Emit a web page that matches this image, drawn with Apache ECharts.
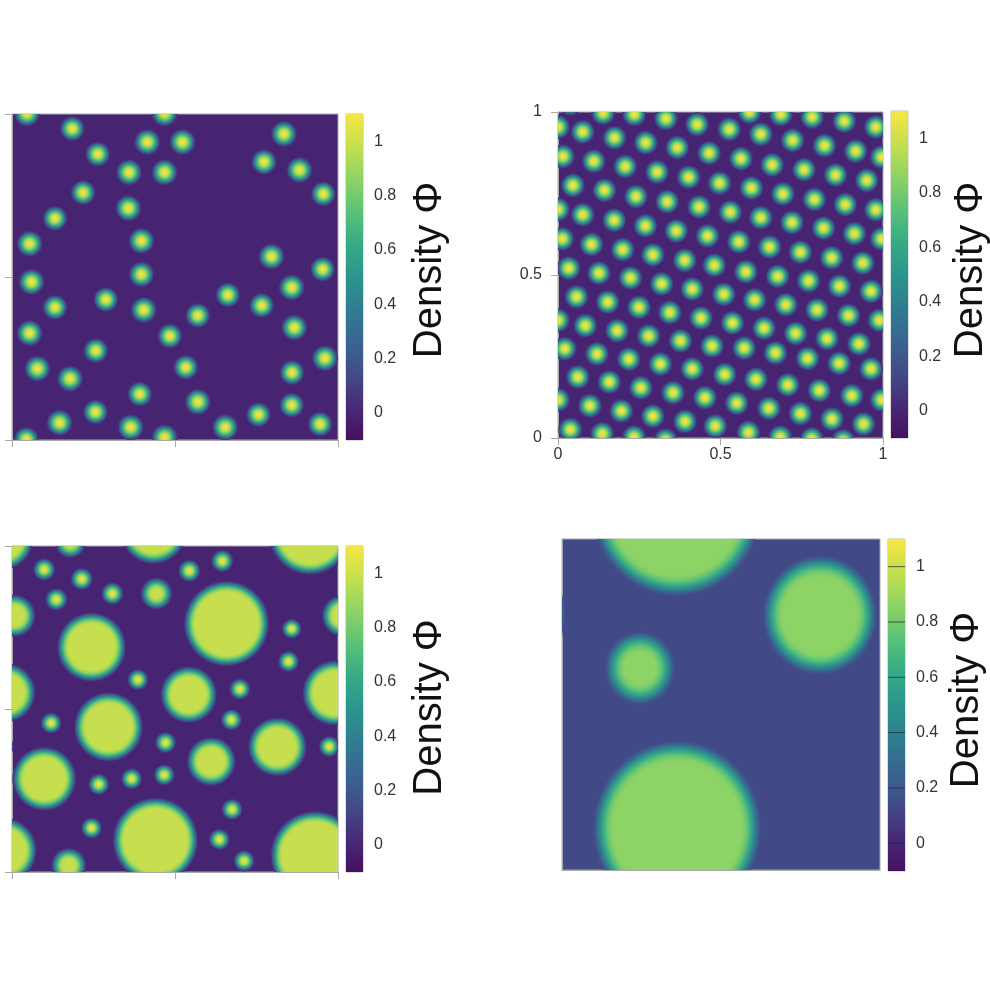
<!DOCTYPE html>
<html><head><meta charset="utf-8">
<style>html,body{margin:0;background:#fff}#c{width:990px;height:990px}</style>
<script src="https://cdn.jsdelivr.net/npm/echarts@6/dist/echarts.min.js"></script>
</head><body><div id="c"></div>
<script>
// droplets: [x, y, radius] in domain units
const droplets1=[[.046,1.002,.042],[.185,.955,.040],[.263,.877,.040],[.415,.914,.042],[.523,.914,.042],[.468,1.002,.042],[.834,.939,.042],[.773,.853,.041],[.882,.828,.042],[.955,.755,.040],[.359,.821,.042],[.468,.821,.042],[.218,.759,.040],[.357,.711,.042],[.132,.680,.040],[.054,.602,.042],[.397,.611,.042],[.796,.563,.042],[.953,.524,.040],[.060,.485,.042],[.397,.508,.041],[.858,.468,.042],[.662,.445,.040],[.766,.413,.040],[.288,.431,.040],[.132,.407,.040],[.404,.399,.042],[.570,.382,.040],[.866,.345,.042],[.054,.328,.042],[.484,.319,.040],[.257,.274,.040],[.960,.251,.042],[.078,.219,.042],[.533,.223,.040],[.178,.188,.042],[.859,.207,.040],[.392,.141,.040],[.570,.117,.042],[.858,.107,.040],[.756,.078,.040],[.256,.086,.040],[.146,.053,.042],[.364,.039,.042],[.945,.049,.040],[.654,.039,.042],[.468,.008,.042],[.044,.002,.040]];
const dropletCenters2=[[.139,.997],[.235,.993],[.332,.980],[.428,.962],[.076,.939],[.174,.921],[.270,.906],[.367,.891],[.465,.874],[.015,.864],[.110,.849],[.207,.833],[.305,.816],[.402,.800],[.497,.782],[.046,.775],[.143,.760],[.240,.741],[.336,.725],[.434,.709],[.076,.685],[.173,.668],[.269,.651],[.364,.635],[.460,.620],[.013,.611],[.103,.594],[.199,.578],[.292,.562],[.390,.545],[.481,.530],[.033,.521],[.126,.506],[.223,.491],[.319,.473],[.413,.457],[.510,.441],[0,.954],[0,.701],[.038,1.026],[.057,.433],[.153,.417],[.249,.401],[.344,.385],[.440,.368],[0,.361],[.084,.345],[.182,.329],[.279,.313],[.377,.298],[.474,.282],[.021,.274],[.120,.258],[.218,.242],[.315,.227],[.413,.212],[.513,.195],[.061,.187],[.158,.172],[.255,.154],[.354,.139],[.452,.124],[0,.117],[.098,.099],[.195,.083],[.292,.067],[.391,.051],[.484,.037],[.038,.026],[.136,.013],[.234,.003],[.331,-.007],[.589,1.0],[.686,.993],[.782,.985],[.881,.972],[.978,.954],[.527,.947],[.624,.932],[.722,.913],[.820,.897],[.916,.880],[.996,.862],[.563,.857],[.659,.838],[.757,.823],[.854,.807],[.950,.790],[.595,.767],[.692,.749],[.789,.732],[.884,.716],[.978,.700],[.530,.693],[.624,.676],[.720,.661],[.817,.644],[.912,.627],[.996,.611],[.556,.602],[.651,.586],[.746,.570],[.842,.553],[.938,.537],[.578,.510],[.676,.496],[.771,.482],[.866,.466],[.963,.450],[.605,.424],[.701,.409],[.797,.393],[.894,.376],[.989,.361],[.537,.353],[.634,.337],[.731,.321],[.828,.305],[.926,.289],[.573,.276],[.669,.261],[.768,.244],[.865,.229],[.963,.212],[.609,.180],[.707,.163],[.804,.146],[.904,.130],[.996,.117],[.550,.107],[.649,.091],[.746,.075],[.843,.058],[.940,.043],[.586,.017],[.684,.003],[.781,-.003],[.878,-.009]];
const droplets3=[[-.024,1.017,.090],[-.024,.066,.102],[.179,1.010,.049],[.434,1.048,.105],[.914,1.038,.128],[.099,.928,.036],[.214,.899,.036],[.136,.836,.036],[.308,.854,.036],[.544,.924,.036],[.645,.954,.036],[.443,.854,.051],[.658,.762,.133],[.244,.690,.108],[.007,.786,.067],[1.014,.786,.066],[.858,.746,.032],[.848,.646,.034],[.386,.590,.034],[.542,.544,.089],[.699,.561,.034],[-.018,.550,.092],[.991,.549,.102],[.296,.445,.108],[.120,.457,.034],[.673,.467,.034],[.471,.397,.034],[.973,.385,.034],[-.027,.385,.034],[.814,.384,.092],[.611,.339,.077],[.099,.286,.100],[.367,.286,.034],[.467,.298,.034],[.266,.269,.034],[.675,.192,.034],[.244,.135,.034],[.440,.097,.133],[.636,.100,.034],[.712,.034,.034],[.174,.020,.056],[.929,.051,.138]];
const droplets4=[[.360,1.095,.270],[.811,.770,.182],[.245,.610,.113],[.362,.126,.267],[-.168,.770,.182]];
const dropletRadius2=.039;

const axisTicks=[0,.5,1];
const barTicks=[0,.2,.4,.6,.8,1];
const barTitle='Density Φ';
const palette=['#45115f','#472a78','#424c88','#38658f','#2f7d90','#2b958d','#35ab86','#5ac278','#8ed365','#c5df4e','#f8e644'];
const barRange=[-.1,1.1];
// density of the matrix around droplets, and at a droplet core
const matrixDensity=[-.01,-.01,-.01,.13];
const coreDensity=[1.08,1.08,.985,.86];
const smallCoreDensity=1.06;
// share of the way from matrix to core, walking inwards through the interface
const interfaceProfile=[[0,0],[.1,.07],[.25,.28],[.45,.6],[.65,.84],[.85,.97],[1,1]];

function hex(c){return [1,3,5].map(i=>parseInt(c.substr(i,2),16));}
function colorOf(d){
  const t=Math.max(0,Math.min(1,(d-barRange[0])/(barRange[1]-barRange[0])))*(palette.length-1);
  const i=Math.min(palette.length-2,Math.floor(t)),f=t-i,a=hex(palette[i]),b=hex(palette[i+1]);
  return 'rgb('+a.map((v,k)=>Math.round(v+(b[k]-v)*f)).join(',')+')';
}
const panels=[
 {grid:[12,114,326,326],bar:[346,114,17,326],data:droplets1,labels:false,ticks:true,band:14,gap:47,shift:14,rule:false},
 {grid:[558,112,325,326],bar:[891,111,17,327],data:dropletCenters2.map(p=>[p[0],p[1],dropletRadius2]),labels:true,ticks:true,band:13,gap:43,shift:9,rule:false},
 {grid:[12,546,326,326],bar:[346,546,17,326],data:droplets3,labels:false,ticks:true,band:13,gap:47,shift:3,rule:false},
 {grid:[562,539,318,331],bar:[888,539,17,332],data:droplets4,labels:false,ticks:false,band:22,gap:42,shift:10,rule:true}
];
const gridOpt=[],xOpt=[],yOpt=[],series=[];
const GREY='#a9a9a9';
const FONT='Liberation Sans';
panels.forEach((p,i)=>{
  const matrix=matrixDensity[i];
  gridOpt.push({left:p.grid[0],top:p.grid[1],width:p.grid[2],height:p.grid[3],outerBoundsMode:'none',show:true,backgroundColor:colorOf(matrix),borderColor:GREY,borderWidth:1});
  const ax=m=>({type:'value',min:0,max:1,interval:.5,gridIndex:2*i,splitLine:{show:false},
    axisLine:{show:true,lineStyle:{color:GREY,width:1}},
    axisTick:{show:p.ticks,length:7,customValues:axisTicks,lineStyle:{color:GREY}},
    axisLabel:{show:p.labels,customValues:axisTicks,fontFamily:FONT,fontSize:16,color:'#333',margin:m,formatter:v=>String(v)}});
  xOpt.push(ax(9));
  yOpt.push(ax(16));
  series.push({type:'custom',coordinateSystem:'cartesian2d',xAxisIndex:2*i,yAxisIndex:2*i,clip:true,silent:true,
    data:p.data,encode:{x:0,y:1},
    renderItem(params,api){
      const c=api.coord([api.value(0),api.value(1)]),s=api.size([api.value(2),api.value(2)]);
      const R=s[0],band=Math.min(R,p.band);
      const core=(i===2&&R<14)?smallCoreDensity:coreDensity[i];
      const stops=[{offset:0,color:colorOf(core)}];
      interfaceProfile.forEach(q=>{
        stops.push({offset:Math.max(0,Math.min(1,1-q[0]*band/R)),color:colorOf(matrix+(core-matrix)*q[1])});
      });
      stops.sort((a,b)=>a.offset-b.offset);
      stops[stops.length-1].color=colorOf(matrix).replace('rgb','rgba').replace(')',',0)');
      return {type:'circle',x:c[0],y:c[1],scaleY:s[1]/s[0],shape:{cx:0,cy:0,r:R},
        style:{fill:{type:'radial',x:.5,y:.5,r:.5,colorStops:stops}}};
    }});
  // colour bar
  gridOpt.push({left:p.bar[0],top:p.bar[1],width:p.bar[2],height:p.bar[3],outerBoundsMode:'none',show:true,borderColor:'#bdbdbd',borderWidth:1});
  xOpt.push({type:'value',gridIndex:2*i+1,min:0,max:1,show:false});
  yOpt.push({type:'value',gridIndex:2*i+1,position:'right',min:barRange[0],max:barRange[1],splitLine:{show:false},
    axisLine:{show:false},
    axisTick:{show:true,length:7,customValues:barTicks,lineStyle:{color:GREY}},
    axisLabel:{show:true,customValues:barTicks,fontFamily:FONT,fontSize:16,color:'#333',margin:11,formatter:v=>String(v)},
    name:barTitle,nameLocation:'middle',nameRotate:90,nameGap:p.gap,
    nameTextStyle:{fontFamily:FONT,fontSize:40,color:'#111',padding:[0,0,0,p.shift]}});
  series.push({type:'custom',coordinateSystem:'cartesian2d',xAxisIndex:2*i+1,yAxisIndex:2*i+1,silent:true,
    data:[[0,barRange[0],1,barRange[1]]],encode:{x:[0,2],y:[1,3]},
    renderItem(params,api){
      const a=api.coord([api.value(0),api.value(1)]),b=api.coord([api.value(2),api.value(3)]);
      return {type:'rect',shape:{x:a[0],y:b[1],width:b[0]-a[0],height:a[1]-b[1]},
        style:{fill:{type:'linear',x:0,y:1,x2:0,y2:0,colorStops:palette.map((c,k)=>({offset:k/(palette.length-1),color:c}))}}};
    }});
  if(p.rule){
    series.push({type:'custom',coordinateSystem:'cartesian2d',xAxisIndex:2*i+1,yAxisIndex:2*i+1,silent:true,z:5,
      data:barTicks.map(v=>[0,v]),encode:{x:0,y:1},
      renderItem(params,api){
        const a=api.coord([0,api.value(1)]),b=api.coord([1,api.value(1)]);
        return {type:'line',shape:{x1:a[0],y1:a[1],x2:b[0],y2:b[1]},style:{stroke:'rgba(30,40,60,.75)',lineWidth:1}};
      }});
  }
});
const chart=echarts.init(document.getElementById('c'),null,{renderer:'canvas'});
chart.setOption({animation:false,backgroundColor:'#fff',grid:gridOpt,xAxis:xOpt,yAxis:yOpt,series});
</script></body></html>
